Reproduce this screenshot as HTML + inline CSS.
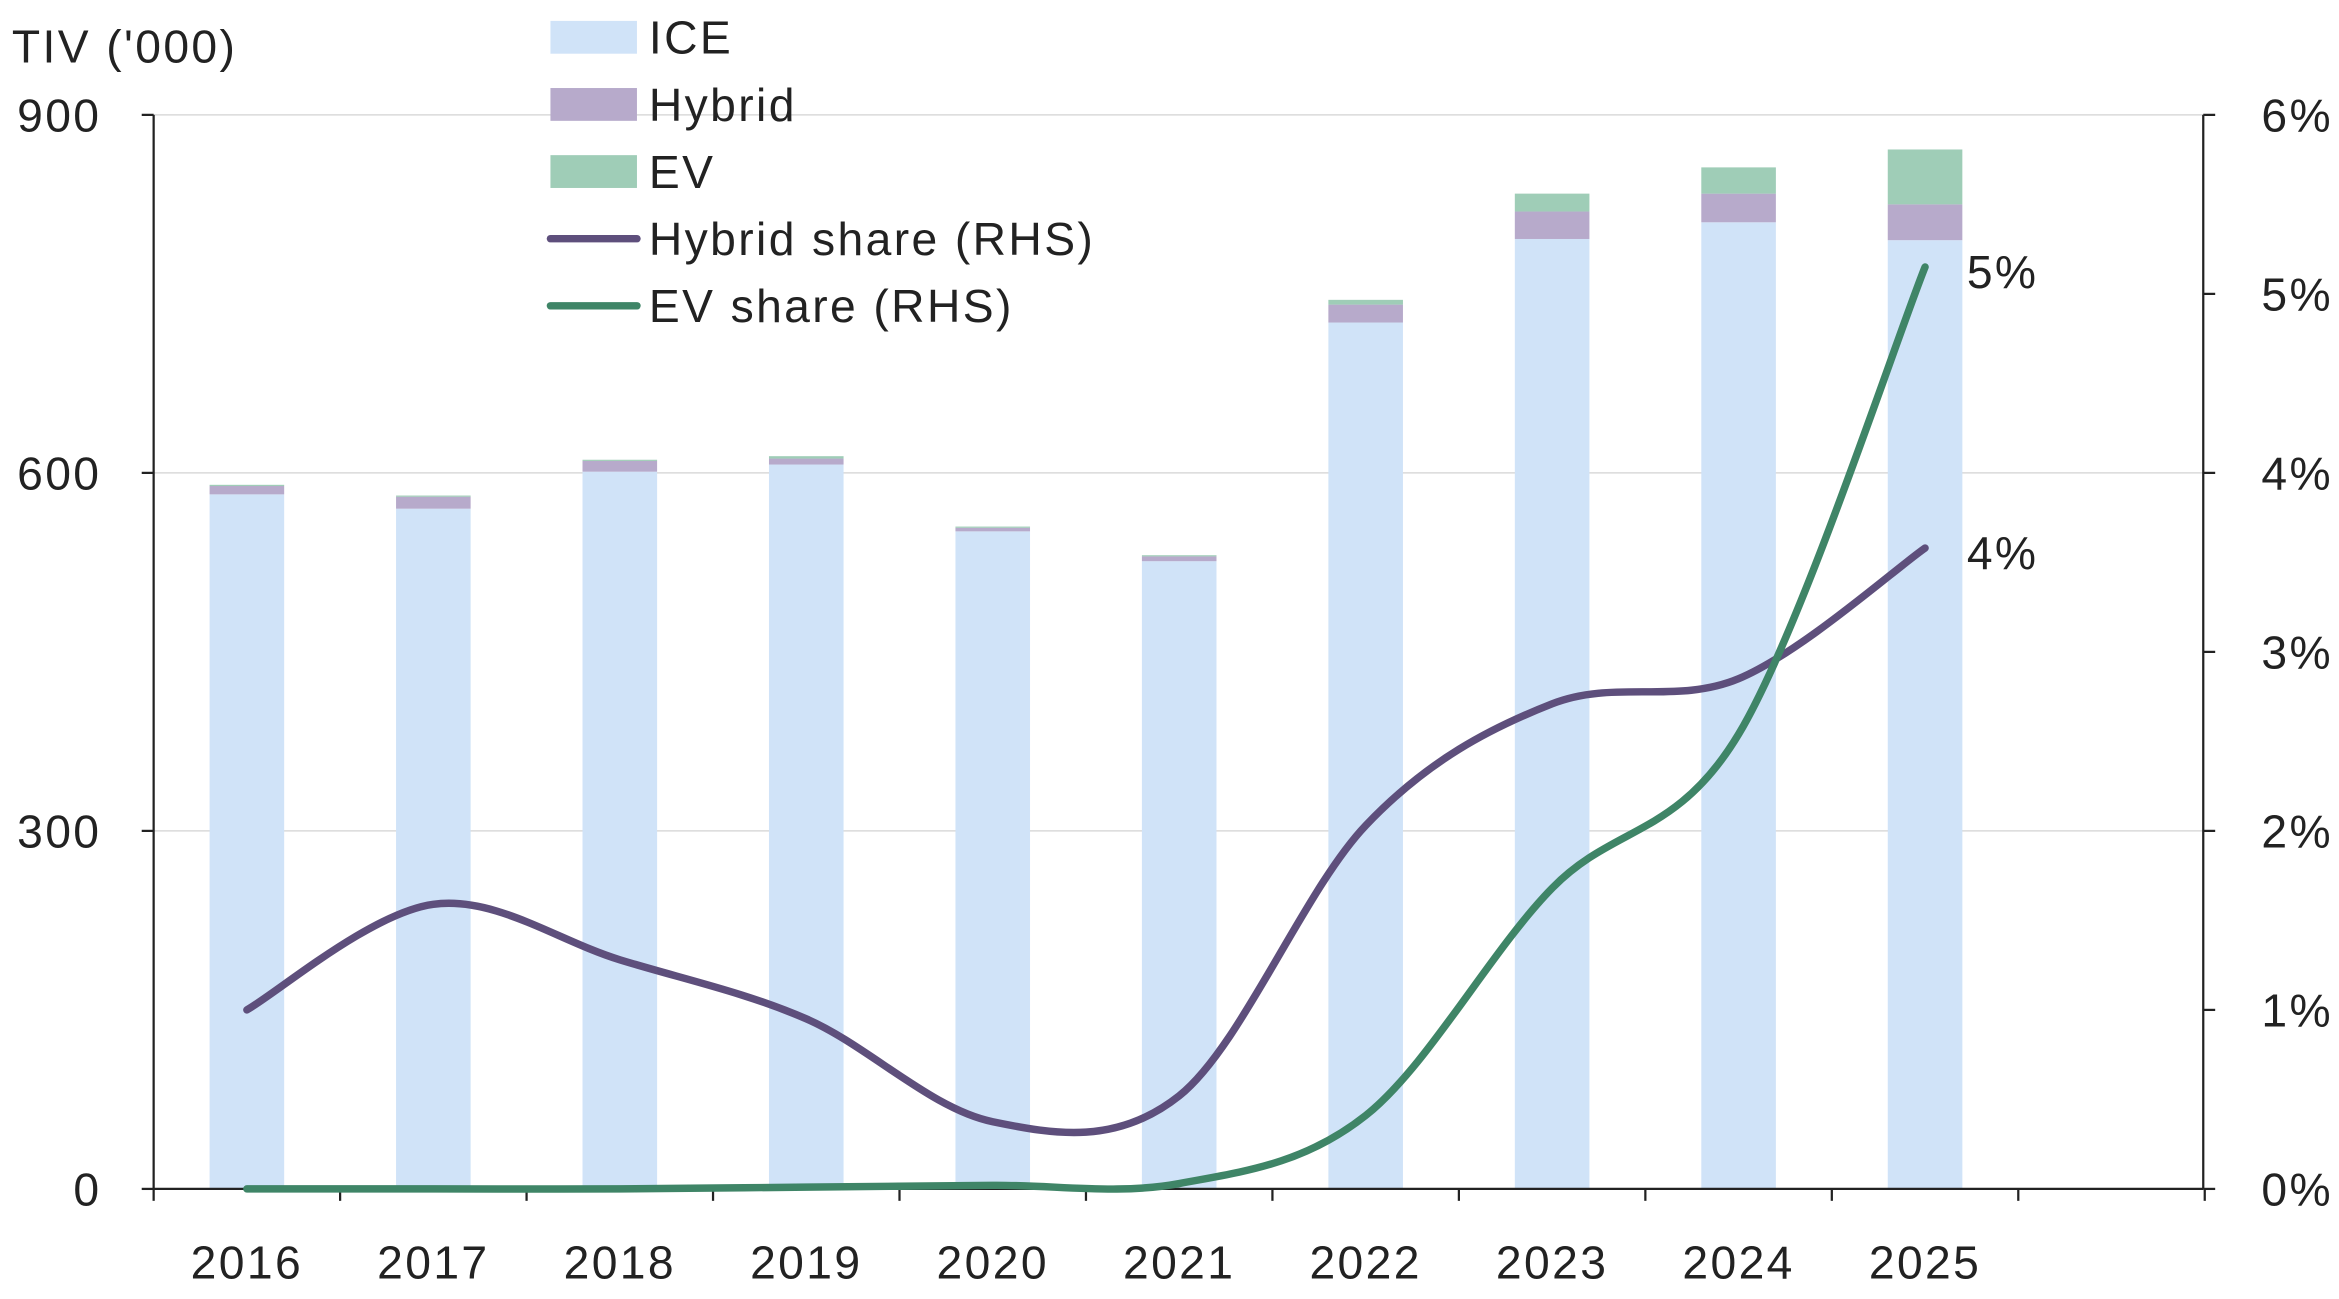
<!DOCTYPE html>
<html><head><meta charset="utf-8"><style>
html,body{margin:0;padding:0;background:#fff;}
svg{display:block;font-family:"Liberation Sans",sans-serif;}
text{letter-spacing:1.6px;}
</style></head><body>
<svg id="chart" width="2339" height="1299" viewBox="0 0 1568 870.8" xmlns="http://www.w3.org/2000/svg"></svg>
<script>
const categories = ["2016","2017","2018","2019","2020","2021","2022","2023","2024","2025"];
const iceValues = [582,570,601,607,551,526,726,796,810,795];
const hybridValues = [7,10,9,5,3,4,15,23,24,30];
const evValues = [1,1,1,2,1,1,4,15,22,46];
const hybridShare = [1.0,1.59,1.28,0.95,0.375,0.52,2.03,2.71,2.85,3.58];
const evShare = [0,0,0,0.01,0.02,0.03,0.41,1.68,2.54,5.15];
const leftTicks = [0,300,600,900];
const rightTicks = ["0%","1%","2%","3%","4%","5%","6%"];
const endLabels = ["5%","4%"];

const svg = document.getElementById('chart');
const NS = 'http://www.w3.org/2000/svg';
const X0 = 103, XR = 1477, Y0 = 797, YT = 77, slot = 125, barW = 50, FS = 31;
const yL = v => Y0 - (Y0 - YT) * v / 900;
const yR = v => Y0 - (Y0 - YT) * v / 6;
const xC = i => X0 + slot * i + slot / 2;
function mk(tag, attrs, parent) {
  const e = document.createElementNS(NS, tag);
  for (const k in attrs) e.setAttribute(k, attrs[k]);
  (parent || svg).appendChild(e);
  return e;
}
leftTicks.forEach(t => {
  if (t === 0) return;
  const g = mk('line', {x1: X0, x2: XR, y1: yL(t), y2: yL(t), stroke: '#d9d9d9', 'stroke-width': 1});
  
  
});
categories.forEach((c, i) => {
  const x = xC(i) - barW / 2;
  const segs = [[iceValues[i], 0, '#d0e3f8', 'ice'], [hybridValues[i], iceValues[i], '#b7aacb', 'hybrid'], [evValues[i], iceValues[i] + hybridValues[i], '#9fcdb7', 'ev']];
  segs.forEach(s => {
    const r = mk('rect', {x: x, width: barW, y: yL(s[1] + s[0]), height: yL(s[1]) - yL(s[1] + s[0]), fill: s[2]});
    
    
  });
  const t = mk('text', {x: xC(i), y: 857, 'font-size': FS, 'text-anchor': 'middle', fill: '#222'});
  t.textContent = c;
  
  
});
const ax = mk('line', {x1: X0, x2: XR, y1: Y0, y2: Y0, stroke: '#222', 'stroke-width': 1.5});
 
for (let i = 0; i <= 11; i++) mk('line', {x1: X0 + slot * i, x2: X0 + slot * i, y1: Y0, y2: Y0 + 8, stroke: '#222', 'stroke-width': 1.5});
const la = mk('line', {x1: X0, x2: X0, y1: YT, y2: Y0, stroke: '#222', 'stroke-width': 1.5});
 
const ra = mk('line', {x1: XR, x2: XR, y1: YT, y2: Y0, stroke: '#222', 'stroke-width': 1.5});
 
leftTicks.forEach(t => {
  mk('line', {x1: X0 - 8, x2: X0, y1: yL(t), y2: yL(t), stroke: '#222', 'stroke-width': 1.5});
  const tx = mk('text', {x: 68, y: yL(t) + 11, 'font-size': FS, 'text-anchor': 'end', fill: '#222'});
  tx.textContent = t;
  
  
});
rightTicks.forEach((t, i) => {
  mk('line', {x1: XR, x2: XR + 8, y1: yR(i), y2: yR(i), stroke: '#222', 'stroke-width': 1.5});
  const tx = mk('text', {x: 1564, y: yR(i) + 11, 'font-size': FS, 'text-anchor': 'end', fill: '#222'});
  tx.textContent = t;
  
  
});
const yt = mk('text', {x: 8, y: 42, 'font-size': FS, fill: '#222'});
yt.textContent = "TIV ('000)";
 
function smooth(vals) {
  const p = vals.map((v, i) => [xC(i), yR(v)]);
  let d = 'M' + p[0][0] + ',' + p[0][1];
  for (let i = 0; i < p.length - 1; i++) {
    const a = p[i - 1] || p[i], b = p[i], c = p[i + 1], e = p[i + 2] || c;
    const k = 1 / 6;
    d += ' C' + (b[0] + (c[0] - a[0]) * k) + ',' + (b[1] + (c[1] - a[1]) * k) + ' ' + (c[0] - (e[0] - b[0]) * k) + ',' + (c[1] - (e[1] - b[1]) * k) + ' ' + c[0] + ',' + c[1];
  }
  return d;
}
const hl = mk('path', {d: smooth(hybridShare), fill: 'none', stroke: '#5e4f7c', 'stroke-width': 5, 'stroke-linecap': 'round'});
 
const el = mk('path', {d: smooth(evShare), fill: 'none', stroke: '#3f8567', 'stroke-width': 5, 'stroke-linecap': 'round'});
 
const n = categories.length - 1;
const l1 = mk('text', {x: xC(n) + 28, y: yR(evShare[n]) + 14, 'font-size': FS, fill: '#222'});
l1.textContent = endLabels[0];
 
const l2 = mk('text', {x: xC(n) + 28, y: yR(hybridShare[n]) + 14, 'font-size': FS, fill: '#222'});
l2.textContent = endLabels[1];
 
const leg = [['ICE', '#d0e3f8', 'rect'], ['Hybrid', '#b7aacb', 'rect'], ['EV', '#9fcdb7', 'rect'], ['Hybrid share (RHS)', '#5e4f7c', 'line'], ['EV share (RHS)', '#3f8567', 'line']];
leg.forEach((l, i) => {
  const y = 25 + i * 45;
  const g = mk('g', {});
  
  
  if (l[2] === 'rect') mk('rect', {x: 369, y: y - 11, width: 58, height: 22, fill: l[1]}, g);
  else mk('line', {x1: 369, x2: 427, y1: y, y2: y, stroke: l[1], 'stroke-width': 5, 'stroke-linecap': 'round'}, g);
  const t = mk('text', {x: 435, y: y + 11, 'font-size': FS, fill: '#222'}, g);
  t.textContent = l[0];
});
</script>
</body></html>
